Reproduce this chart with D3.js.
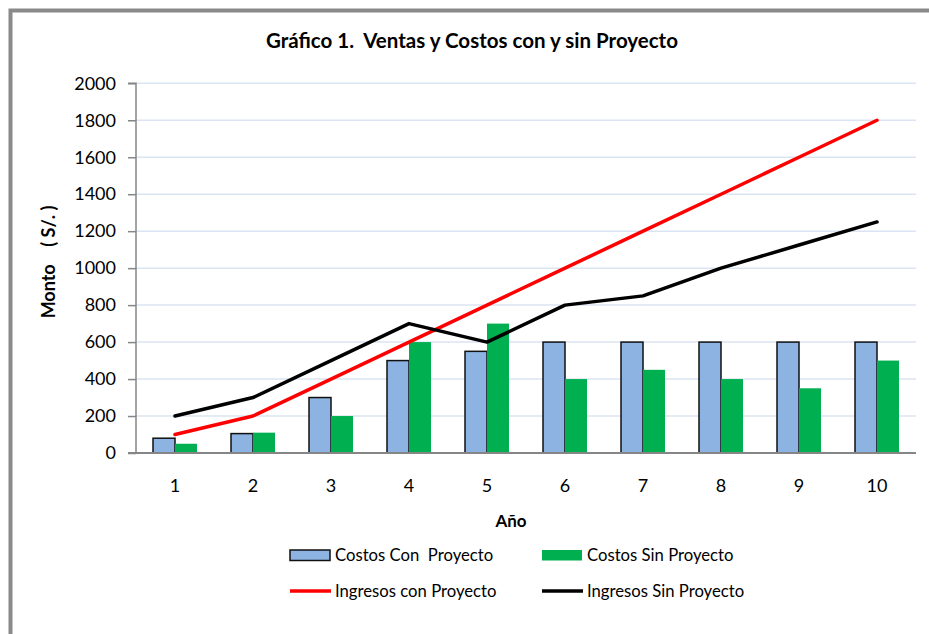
<!DOCTYPE html>
<html><head><meta charset="utf-8">
<script src="https://cdn.jsdelivr.net/npm/d3@7"></script>
<style>
html,body{margin:0;padding:0;background:#fff;overflow:hidden;}
text{font-family:Lato,"Open Sans",sans-serif;fill:#000;}
</style></head>
<body>
<svg id="chart" width="929" height="634"></svg>
<script>
const years = ["1","2","3","4","5","6","7","8","9","10"];
const costosCon = [80,105,300,500,550,600,600,600,600,600];
const costosSin = [50,110,200,600,700,400,450,400,350,500];
const ingresosCon = [100,200,400,600,800,1000,1200,1400,1600,1800];
const ingresosSin = [200,300,500,700,600,800,850,1000,1125,1250];
const yTicks = [0,200,400,600,800,1000,1200,1400,1600,1800,2000];
const barSeries = ["Costos Con  Proyecto","Costos Sin Proyecto"];
const lineSeries = ["Ingresos con Proyecto","Ingresos Sin Proyecto"];

const svg = d3.select("#chart");
const L = 136, R = 916, T = 83.3, B = 453;

// frame
svg.append("rect").attr("x",10.5).attr("y",10.5).attr("width",1000).attr("height",1000)
  .attr("fill","none").attr("stroke","#8a8a8a").attr("stroke-width",4);

const x = d3.scaleBand().domain(years).range([L,R]).paddingInner(0.436).paddingOuter(0.218);
const x1 = d3.scaleBand().domain([0,1]).range([0,x.bandwidth()]);
const y = d3.scaleLinear().domain([0,2000]).range([B,T]);

// gridlines
svg.append("g").selectAll("line").data(yTicks.filter(d=>d>0)).join("line")
  .attr("x1",L).attr("x2",R).attr("y1",d=>y(d)).attr("y2",d=>y(d))
  .attr("stroke","#dbe4f2").attr("stroke-width",1.5);

// bars
const bars = [costosCon, costosSin];
const barColors = ["#8db3e2","#00b050"];
bars.forEach((arr,si)=>{
  svg.append("g").selectAll("rect").data(arr).join("rect")
    .attr("x",(d,i)=>x(years[i])+x1(si))
    .attr("y",d=>y(d))
    .attr("width",x1.bandwidth())
    .attr("height",d=>B-y(d))
    .attr("fill",barColors[si])
    .attr("stroke",si===0?"#111":"none")
    .attr("stroke-width",si===0?1.5:0);
});

// y axis
const yAxis = d3.axisLeft(y).tickValues(yTicks).tickSize(8).tickPadding(12).tickFormat(d3.format("d"));
const gy = svg.append("g").attr("transform",`translate(${L},0)`).call(yAxis);
gy.select(".domain").attr("stroke","#868686").attr("stroke-width",1.5).attr("d",`M-8,${T}H0V${B}`);
gy.selectAll(".tick line").attr("stroke","#868686").attr("stroke-width",1.5);
gy.selectAll(".tick text").attr("font-size",18).attr("font-family","Lato").attr("fill","#000");

// x axis
const xAxis = d3.axisBottom(x).tickSize(0).tickPadding(26);
const gx = svg.append("g").attr("transform",`translate(0,${B})`).call(xAxis);
gx.select(".domain").attr("stroke","#868686").attr("stroke-width",2).attr("d",`M${L-8},0H${R}`);
gx.selectAll(".tick text").attr("font-size",18).attr("font-family","Lato").attr("fill","#000");

// lines
const lines = [ingresosCon, ingresosSin];
const lineColors = ["#ff0000","#000000"];
lines.forEach((arr,si)=>{
  const gen = d3.line().x((d,i)=>x(years[i])+x.bandwidth()/2).y(d=>y(d));
  svg.append("path").datum(arr).attr("d",gen).attr("fill","none")
    .attr("stroke",lineColors[si]).attr("stroke-width",3.5)
    .attr("stroke-linecap","round").attr("stroke-linejoin","round");
});

// titles
svg.append("text").attr("x",472).attr("y",48).attr("text-anchor","middle")
  .attr("font-size",20.5).attr("font-weight","bold").style("white-space","pre")
  .text("Gráfico 1.  Ventas y Costos con y sin Proyecto");
svg.append("text").attr("transform","translate(55,262) rotate(-90)").attr("text-anchor","middle")
  .attr("font-size",18).attr("font-weight","bold").style("white-space","pre")
  .text("Monto    ( S/. )");
svg.append("text").attr("x",511).attr("y",527).attr("text-anchor","middle")
  .attr("font-size",17).attr("font-weight","bold").text("Año");

// legend
const leg = svg.append("g");
const legPos = [[290,555],[542,555],[290,591],[542,591]];
const allNames = barSeries.concat(lineSeries);
allNames.forEach((name,i)=>{
  const [lx,ly] = legPos[i];
  if(i<2){
    leg.append("rect").attr("x",lx).attr("y",ly-5).attr("width",40).attr("height",10.5)
      .attr("fill",barColors[i]).attr("stroke",i===0?"#111":"none").attr("stroke-width",1.5);
  } else {
    leg.append("line").attr("x1",lx).attr("x2",lx+41).attr("y1",ly).attr("y2",ly)
      .attr("stroke",lineColors[i-2]).attr("stroke-width",3.5);
  }
  leg.append("text").attr("x",lx+45).attr("y",ly+6).attr("font-size",16.7).style("white-space","pre").text(name);
});
</script>
</body></html>
